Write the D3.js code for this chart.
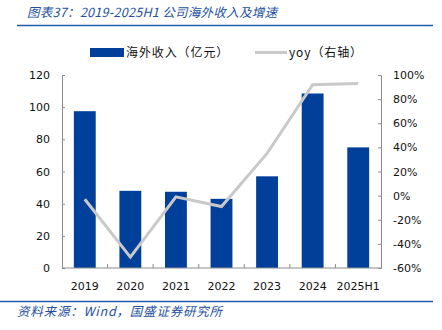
<!DOCTYPE html>
<html lang="zh">
<head>
<meta charset="UTF-8" />
<title>2019-2025H1 公司海外收入及增速</title>
<script src="https://d3js.org/d3.v7.min.js"></script>
<style>
  body { margin: 0; background: #fff; }
</style>
</head>
<body>
<script>
    // data
    var years = ["2019", "2020", "2021", "2022", "2023", "2024", "2025H1"];
    var revenue = [97.5, 48, 47.4, 43, 57, 108.5, 75];   // 海外收入（亿元）
    var yoy = [-3, -51, -1, -9, 35, 92, 93];              // yoy %（右轴）
    var leftTicks = [0, 20, 40, 60, 80, 100, 120];
    var rightTicks = [-60, -40, -20, 0, 20, 40, 60, 80, 100];

    var w = 442, h = 330;
    var plotL = 62, plotR = 381, plotT = 75, plotB = 268;
    var blue = "#00409a";
    var grey = "#c9c9c9";
    var axisGrey = "#8c8c8c";
    var font = "'DejaVu Sans', sans-serif";
    var cjk = "'Noto Sans CJK SC', sans-serif";

    var svg = d3.select("body").append("svg")
        .attr("width", w)
        .attr("height", h);

    // title + rules
    svg.append("text")
        .attr("x", 27).attr("y", 17)
        .attr("font-family", cjk)
        .attr("font-style", "italic")
        .attr("font-size", "12.5px")
        .attr("letter-spacing", "0.3px")
        .attr("fill", "#234f9e")
        .text("图表37：2019-2025H1 公司海外收入及增速");

    svg.append("line")
        .attr("x1", 17).attr("x2", 433).attr("y1", 25.5).attr("y2", 25.5)
        .attr("stroke", "#1f5aa8").attr("stroke-width", 1.5);

    svg.append("line")
        .attr("x1", 0).attr("x2", 433).attr("y1", 301.5).attr("y2", 301.5)
        .attr("stroke", "#1f5aa8").attr("stroke-width", 1.5);

    svg.append("text")
        .attr("x", 17).attr("y", 316)
        .attr("font-family", cjk)
        .attr("font-style", "italic")
        .attr("font-size", "12.5px")
        .attr("letter-spacing", "0.8px")
        .attr("fill", "#234f9e")
        .text("资料来源：Wind，国盛证券研究所");

    // scales
    var xScale = d3.scaleBand()
        .domain(years)
        .range([plotL, plotR])
        .paddingInner(0.52)
        .paddingOuter(0.26);

    var yLeft = d3.scaleLinear().domain([0, 120]).range([plotB, plotT]);
    var yRight = d3.scaleLinear().domain([-60, 100]).range([plotB, plotT]);

    // bars
    svg.selectAll("rect.bar")
        .data(revenue)
        .enter()
        .append("rect")
        .attr("class", "bar")
        .attr("x", function (d, i) { return xScale(years[i]); })
        .attr("y", function (d) { return yLeft(d); })
        .attr("width", xScale.bandwidth())
        .attr("height", function (d) { return plotB - yLeft(d); })
        .attr("fill", blue);

    // yoy line
    var line = d3.line()
        .x(function (d, i) { return xScale(years[i]) + xScale.bandwidth() / 2; })
        .y(function (d) { return yRight(d); });

    svg.append("path")
        .datum(yoy)
        .attr("d", line)
        .attr("fill", "none")
        .attr("stroke", grey)
        .attr("stroke-width", 3);

    // axes
    var leftAxis = d3.axisLeft(yLeft).tickValues(leftTicks).tickSize(-3).tickPadding(12);
    var rightAxis = d3.axisRight(yRight).tickValues(rightTicks).tickSize(-3).tickPadding(12)
        .tickFormat(function (d) { return d + "%"; });

    var gl = svg.append("g").attr("transform", "translate(" + plotL + ",0)").call(leftAxis);
    var gr = svg.append("g").attr("transform", "translate(" + plotR + ",0)").call(rightAxis);

    [gl, gr].forEach(function (g) {
        g.select(".domain").attr("stroke", axisGrey);
        g.selectAll(".tick line").attr("stroke", axisGrey);
        g.selectAll("text")
            .attr("font-family", font)
            .attr("font-size", "11px")
            .attr("fill", "#111");
    });

    // bottom axis: baseline with small up ticks between categories
    var gb = svg.append("g").attr("transform", "translate(0," + plotB + ")");
    gb.append("line")
        .attr("x1", plotL).attr("x2", plotR)
        .attr("stroke", axisGrey);
    var step = xScale.step();
    var seps = d3.range(1, years.length).map(function (i) {
        return xScale(years[i]) - (step - xScale.bandwidth()) / 2;
    });
    gb.selectAll("line.sep")
        .data(seps)
        .enter()
        .append("line")
        .attr("class", "sep")
        .attr("x1", function (d) { return d; })
        .attr("x2", function (d) { return d; })
        .attr("y1", 0).attr("y2", -4)
        .attr("stroke", axisGrey);
    gb.selectAll("text")
        .data(years)
        .enter()
        .append("text")
        .attr("x", function (d) { return xScale(d) + xScale.bandwidth() / 2; })
        .attr("y", 22)
        .attr("text-anchor", "middle")
        .attr("font-family", font)
        .attr("font-size", "11px")
        .attr("fill", "#111")
        .text(function (d) { return d; });

    // legend
    var lg = svg.append("g");
    lg.append("rect")
        .attr("x", 90).attr("y", 48).attr("width", 34).attr("height", 9)
        .attr("fill", blue);
    lg.append("text")
        .attr("x", 126).attr("y", 57)
        .attr("font-family", cjk)
        .attr("font-size", "12px")
        .attr("letter-spacing", "0.9px")
        .attr("fill", "#111")
        .text("海外收入（亿元）");
    lg.append("line")
        .attr("x1", 255).attr("x2", 287).attr("y1", 52.5).attr("y2", 52.5)
        .attr("stroke", grey).attr("stroke-width", 3);
    lg.append("text")
        .attr("x", 289).attr("y", 57)
        .attr("font-family", cjk)
        .attr("font-size", "12px")
        .attr("letter-spacing", "0.9px")
        .attr("fill", "#111")
        .text("yoy（右轴）");
</script>
</body>
</html>
